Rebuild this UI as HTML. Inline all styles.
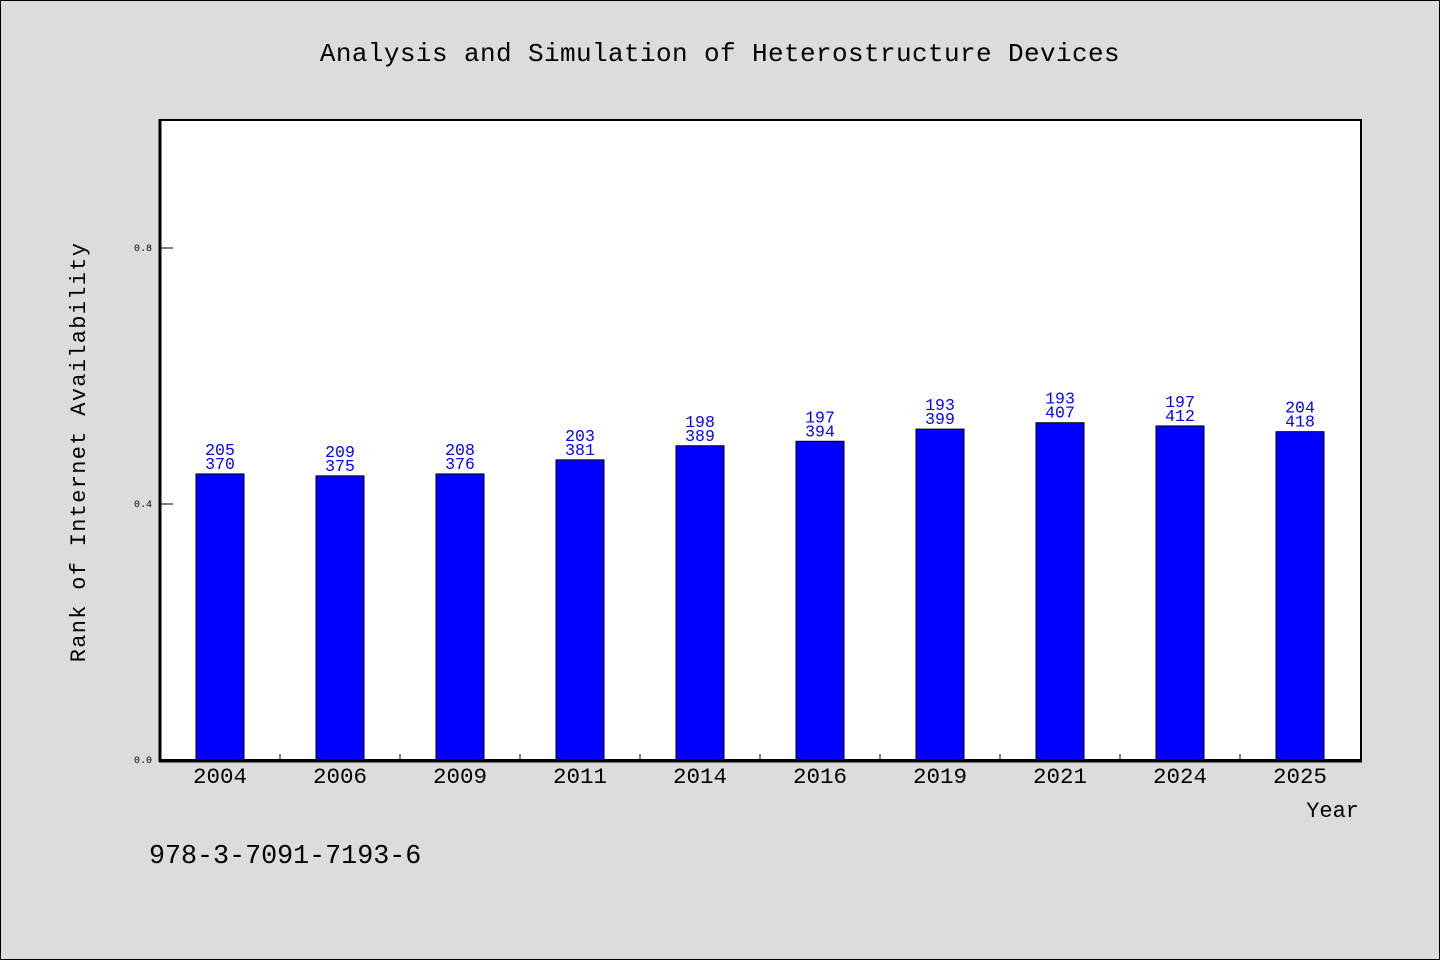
<!DOCTYPE html>
<html><head><meta charset="utf-8">
<style>
body{margin:0;background:#dcdcdc;}
svg{display:block;font-family:"Liberation Mono",monospace;}
</style></head>
<body>
<svg id="chart" width="1440" height="960" xmlns="http://www.w3.org/2000/svg">
<rect x="0.5" y="0.5" width="1439" height="959" fill="#dcdcdc" stroke="#000" stroke-width="1"/>
<text x="720" y="61" font-size="26" text-anchor="middle" letter-spacing="0.4">Analysis and Simulation of Heterostructure Devices</text>
<rect x="160" y="120" width="1201" height="640" fill="#fff" stroke="#000" stroke-width="2"/>
<g id="marks"></g>
<line x1="160" y1="119" x2="160" y2="762" stroke="#000" stroke-width="3"/>
<line x1="159" y1="761" x2="1362" y2="761" stroke="#000" stroke-width="3"/>
<text transform="translate(85,452) rotate(-90)" font-size="22" text-anchor="middle" letter-spacing="1.3">Rank of Internet Availability</text>
<text x="1359" y="817" font-size="22" text-anchor="end">Year</text>
<text x="149" y="863" font-size="26.7">978-3-7091-7193-6</text>
</svg>
<script>
const categories=["2004","2006","2009","2011","2014","2016","2019","2021","2024","2025"];
const values=[0.447,0.444,0.447,0.469,0.491,0.498,0.517,0.527,0.522,0.513];
const labelTop=["205","209","208","203","198","197","193","193","197","204"];
const labelBottom=["370","375","376","381","389","394","399","407","412","418"];
const yTicks=[0,0.4,0.8];
const yTickLabels=["0.0","0.4","0.8"];
const NS="http://www.w3.org/2000/svg";
const x0=160,x1=1360,y0=760,yTop=120,yMax=1.0;
const band=(x1-x0)/categories.length;
const xs=i=>x0+band*i+band/2;
const ys=v=>y0-(v/yMax)*(y0-yTop);
const g=document.getElementById('marks');
function mk(t,a){const e=document.createElementNS(NS,t);for(const k in a)e.setAttribute(k,a[k]);g.appendChild(e);return e;}
yTicks.forEach((v,i)=>{
  const l=mk('line',{x1:x0,x2:x0+13,y1:ys(v),y2:ys(v),stroke:'#000','stroke-width':1});
  
  
  const t=mk('text',{x:x0-8,y:ys(v)+3,'font-size':10,'text-anchor':'end'});
  t.textContent=yTickLabels[i];
  
  
});
categories.forEach((c,i)=>{
  if(i>0){
    const tk=mk('line',{x1:x0+band*i,x2:x0+band*i,y1:y0-6,y2:y0,stroke:'#000','stroke-width':1});
    
    
  }
  const cx=xs(i),top=ys(values[i]);
  const r=mk('rect',{x:cx-24,y:top,width:48,height:y0-top,fill:'#0000ff',stroke:'#000','stroke-width':1});
  
  
  const t1=mk('text',{x:cx,y:top-19,'font-size':16.5,'text-anchor':'middle',fill:'#0000ff'});
  t1.textContent=labelTop[i];
  
  
  const t2=mk('text',{x:cx,y:top-5,'font-size':16.5,'text-anchor':'middle',fill:'#0000ff'});
  t2.textContent=labelBottom[i];
  
  
  const xl=mk('text',{x:cx,y:783,'font-size':22.5,'text-anchor':'middle'});
  xl.textContent=c;
  
  
});
</script>
</body></html>
